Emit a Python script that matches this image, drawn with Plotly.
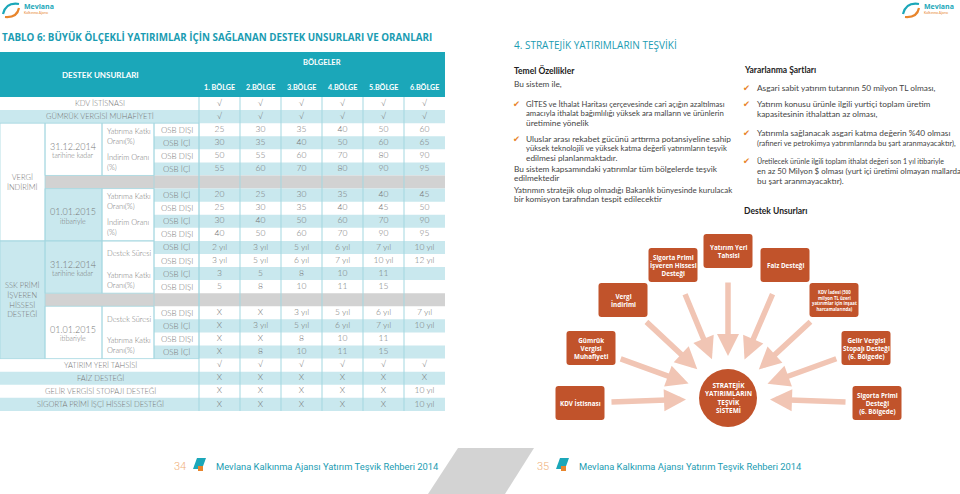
import plotly.graph_objects as go

# ---------------- data ----------------
regions = ["1. BÖLGE", "2.BÖLGE", "3.BÖLGE", "4.BÖLGE", "5.BÖLGE", "6.BÖLGE"]

kdv_istisnasi = ["√", "√", "√", "√", "√", "√"]
gumruk_muafiyeti = ["√", "√", "√", "√", "√", "√"]
vi14_katki_disi = [25, 30, 35, 40, 50, 60]
vi14_katki_ici = [30, 35, 40, 50, 60, 65]
vi14_indirim_disi = [50, 55, 60, 70, 80, 90]
vi14_indirim_ici = [55, 60, 70, 80, 90, 95]
vi15_katki_disi = [20, 25, 30, 35, 40, 45]
vi15_katki_ici = [25, 30, 35, 40, 45, 50]
vi15_indirim_disi = [30, 40, 50, 60, 70, 90]
vi15_indirim_ici = [40, 50, 60, 70, 90, 95]
ssk14_sure_disi = ["2 yıl", "3 yıl", "5 yıl", "6 yıl", "7 yıl", "10 yıl"]
ssk14_sure_ici = ["3 yıl", "5 yıl", "6 yıl", "7 yıl", "10 yıl", "12 yıl"]
ssk14_katki_disi = [3, 5, 8, 10, 11, ""]
ssk14_katki_ici = [5, 8, 10, 11, 15, ""]
ssk15_sure_disi = ["X", "X", "3 yıl", "5 yıl", "6 yıl", "7 yıl"]
ssk15_sure_ici = ["X", "3 yıl", "5 yıl", "6 yıl", "7 yıl", "10 yıl"]
ssk15_katki_disi = ["X", "X", 8, 10, 11, ""]
ssk15_katki_ici = ["X", 8, 10, 11, 15, ""]
yatirim_yeri = ["√", "√", "√", "√", "√", "√"]
faiz_destegi = ["X", "X", "X", "X", "X", "X"]
gelir_stopaji = ["X", "X", "X", "X", "X", "10 yıl"]
sigorta_isci = ["X", "X", "X", "X", "X", "10 yıl"]

full_labels = {0: "KDV İSTİSNASI", 1: "GÜMRÜK VERGİSİ MUHAFİYETİ", 20: "YATIRIM YERİ TAHSİSİ",
               21: "FAİZ DESTEĞİ", 22: "GELİR VERGİSİ STOPAJI DESTEĞİ",
               23: "SİGORTA PRİMİ İŞÇİ HİSSESİ DESTEĞİ"}

table_rows = [kdv_istisnasi, gumruk_muafiyeti,
              vi14_katki_disi, vi14_katki_ici, vi14_indirim_disi, vi14_indirim_ici, None,
              vi15_katki_disi, vi15_katki_ici, vi15_indirim_disi, vi15_indirim_ici,
              ssk14_sure_disi, ssk14_sure_ici, ssk14_katki_disi, ssk14_katki_ici, None,
              ssk15_sure_disi, ssk15_sure_ici, ssk15_katki_disi, ssk15_katki_ici,
              yatirim_yeri, faiz_destegi, gelir_stopaji, sigorta_isci]

groups = [("VERGİ<br>İNDİRİMİ", 2, 10), ("SSK PRİMİ<br>İŞVEREN<br>HİSSESİ<br>DESTEĞİ", 11, 19)]
periods = [("31.12.2014", "tarihine kadar", 2, 5), ("01.01.2015", "itibariyle", 7, 10),
           ("31.12.2014", "tarihine kadar", 11, 14), ("01.01.2015", "itibariyle", 16, 19)]
sub_labels = [("Yatırıma Katkı<br>Oranı(%)", 2), ("İndirim Oranı<br>(%)", 4),
              ("Yatırıma Katkı<br>Oranı(%)", 7), ("İndirim Oranı<br>(%)", 9),
              ("Destek Süresi", 11), ("Yatırıma Katkı<br>Oranı(%)", 13),
              ("Destek Süresi", 16), ("Yatırıma Katkı<br>Oranı(%)", 18)]

diagram_items = ["KDV İstisnası", "Gümrük<br>Vergisi<br>Muhafiyeti", "Vergi<br>İndirimi",
                 "Sigorta Primi<br>İşveren Hissesi<br>Desteği", "Yatırım Yeri<br>Tahsisi",
                 "Faiz Desteği", "KDV İadesi (500<br>milyon TL üzeri<br>yatırımlar için inşaat<br>harcamalarında)",
                 "Gelir Vergisi<br>Stopajı Desteği<br>(6. Bölgede)", "Sigorta Primi<br>Desteği<br>(6. Bölgede)"]
diagram_center = "STRATEJİK<br>YATIRIMLARIN<br>TEŞVİK<br>SİSTEMİ"

temel_lines = [
    ("text", "Bu sistem ile,"),
    ("bullet", "GİTES ve İthalat Haritası çerçevesinde cari açığın azaltılması"),
    ("cont", "amacıyla ithalat bağımlılığı yüksek ara malların ve ürünlerin"),
    ("cont", "üretimine yönelik"),
    ("bullet", "Uluslar arası rekabet gücünü arttırma potansiyeline sahip"),
    ("cont", "yüksek teknolojili ve yüksek katma değerli yatırımların teşvik"),
    ("cont", "edilmesi planlanmaktadır."),
    ("text", "Bu sistem kapsamındaki yatırımlar tüm bölgelerde teşvik"),
    ("text", "edilmektedir"),
    ("text", "Yatırımın stratejik olup olmadığı Bakanlık bünyesinde kurulacak"),
    ("text", "bir komisyon tarafından tespit edilecektir"),
]
temel_y = [84, 104, 113, 123, 139, 148, 158, 169, 178, 190, 199]

sart_lines = [
    ("bullet", "Asgari sabit yatırım tutarının 50 milyon TL olması,"),
    ("bullet", "Yatırım konusu ürünle ilgili yurtiçi toplam üretim"),
    ("cont", "kapasitesinin ithalattan az olması,"),
    ("bullet", "Yatırımla sağlanacak asgari katma değerin %40 olması"),
    ("cont", "(rafineri ve petrokimya yatırımlarında bu şart aranmayacaktır),"),
    ("bullet", "Üretilecek ürünle ilgili toplam ithalat değeri son 1 yıl itibariyle"),
    ("cont", "en az 50 Milyon $ olması (yurt içi üretimi olmayan mallarda"),
    ("cont", "bu şart aranmayacaktır)."),
]
sart_y = [88, 104, 114, 133, 143, 161, 171, 181]

# ---------------- style ----------------
TEAL = "#1ba7b9"
TITLE_TEAL = "#1a9cb2"
LIGHT = "#c9e8ee"
LINE = "#a3d7e0"
GRAY = "#d2d2d2"
TXT = "#767676"
ORANGE = "#c1532b"
SALMON = "#f1c5b4"
CHECK = "#e8852c"
TFONT = "Lato"
BODY = "Lato"
BODY_SIZE = 8.3

X_COL = [0, 45, 102, 154, 199, 240, 281, 322, 363, 404, 445]
Y0, RH = 97, 13.08


def row_y(i):
    return Y0 + RH * (i + 0.5)


def row_top(i):
    return Y0 + RH * i


fig = go.Figure()
shapes = []
ann = []


def rect(x0, y0, x1, y1, fill=None, line=None, lw=0.8):
    shapes.append(dict(type="rect", xref="x", yref="y", x0=x0, y0=y0, x1=x1, y1=y1,
                       fillcolor=fill or "rgba(0,0,0,0)",
                       line=dict(color=line or "rgba(0,0,0,0)", width=lw if line else 0),
                       layer="below"))


def text(x, y, s, size=8, color=TXT, anchor="center", family=TFONT, weight="normal", va="middle"):
    ann.append(dict(x=x, y=y, xref="x", yref="y", text=s, showarrow=False, xanchor=anchor,
                    yanchor=va, align=anchor if anchor != "center" else "center",
                    font=dict(size=size, color=color, family=family, weight=weight)))


def fit_size(s, max_w):
    # rough width of Lato text: ~0.43 em per character
    return min(BODY_SIZE, max_w / (0.43 * len(s)))


# ---------------- left page: table ----------------
text(0, 37, "TABLO 6: BÜYÜK ÖLÇEKLİ YATIRIMLAR İÇİN SAĞLANAN DESTEK UNSURLARI VE ORANLARI",
     size=9.8, color=TITLE_TEAL, anchor="left", weight="bold", family="Open Sans")

rect(0, 52, X_COL[-1], Y0, fill=TEAL)
text(100, 75, "DESTEK UNSURLARI", size=8, color="white", weight="bold")
text(322, 62, "BÖLGELER", size=7.5, color="white", weight="bold")
col_x = [(X_COL[4 + j] + X_COL[5 + j]) / 2 for j in range(6)]
for j, r in enumerate(regions):
    text(col_x[j], 87, r, size=7.2, color="white", weight="bold")

for i, vals in enumerate(table_rows):
    top, bot = row_top(i), row_top(i + 1)
    if vals is None:
        rect(X_COL[1], top, X_COL[-1], bot, fill=GRAY)
        continue
    if i in full_labels:
        if i % 2 == 1:
            rect(0, top, X_COL[-1], bot, fill=LIGHT)
    elif i % 2 == 1:
        rect(X_COL[3], top, X_COL[-1], bot, fill=LIGHT)

# merged cells
rect(0, row_top(11), X_COL[1], row_top(20), fill=LIGHT)
rect(X_COL[1], row_top(7), X_COL[2], row_top(11), fill=LIGHT)
rect(X_COL[1], row_top(11), X_COL[2], row_top(15), fill=LIGHT)
for lab, r0, r1 in groups:
    rect(0, row_top(r0), X_COL[1], row_top(r1 + 1), line=LINE)
    text(22, (row_top(r0) + row_top(r1 + 1)) / 2, lab, size=7.5, weight=300)
for d, sub, r0, r1 in periods:
    rect(X_COL[1], row_top(r0), X_COL[2], row_top(r1 + 1), line=LINE)
    rect(X_COL[2], row_top(r0), X_COL[3], row_top(r1 + 1), line=LINE)
    cy = (row_top(r0) + row_top(r1 + 1)) / 2
    text(73, cy - 3, d, size=9, weight=300)
    text(73, cy + 6, sub, size=7, weight=300)
for lab, r0 in sub_labels:
    cy = row_top(r0 + 1)
    text(105, cy, lab, size=7.5, anchor="left", weight=300)
rect(X_COL[3], row_top(2), X_COL[4], row_top(20), line=LINE)
for i in range(2, 20):
    if table_rows[i] is not None:
        text((X_COL[3] + X_COL[4]) / 2, row_y(i), "OSB DIŞI" if i % 2 == 0 else "OSB İÇİ",
             size=8, weight=300)
for i, lab in full_labels.items():
    text(100, row_y(i), lab, size=7.5, weight=300)
for x in X_COL[4:-1]:
    shapes.append(dict(type="line", xref="x", yref="y", x0=x, x1=x, y0=Y0, y1=row_top(24),
                       line=dict(color=LINE, width=1), layer="below"))

vx, vy, vt = [], [], []
for i, vals in enumerate(table_rows):
    if vals is None:
        continue
    for j, v in enumerate(vals):
        vx.append(col_x[j])
        vy.append(row_y(i))
        vt.append(str(v))
fig.add_trace(go.Scatter(x=vx, y=vy, text=vt, mode="text", hoverinfo="skip",
                         textfont=dict(size=8.5, color=TXT, family=TFONT, weight=300)))


# ---------------- logos / footer ----------------
def logo(x, y):
    shapes.append(dict(type="path", xref="x", yref="y",
                       path=f"M {x+1} {y+13} Q {x+4} {y+1} {x+17} {y+3}",
                       line=dict(color=TEAL, width=2.2)))
    shapes.append(dict(type="path", xref="x", yref="y",
                       path=f"M {x+3} {y+16} Q {x+15} {y+17} {x+17} {y+7}",
                       line=dict(color=CHECK, width=2.2)))
    text(x + 20, y + 5, "Mevlana", size=7, color=TEAL, anchor="left", weight="bold", family="Open Sans")
    text(x + 20, y + 12, "Kalkınma Ajansı", size=3.5, color=CHECK, anchor="left")


logo(2, 1)
logo(902, 1)

shapes.append(dict(type="path", xref="x", yref="y", path="M 458 448 L 534 448 L 505 494 L 428 494 Z",
                   fillcolor="#d3d3d3", line=dict(width=0), layer="below"))


def footer(x, page):
    text(x, 466, page, size=11, color="#f0b07a", anchor="left", family="Roboto", weight=300)
    shapes.append(dict(type="path", xref="x", yref="y",
                       path=f"M {x+25} {y_f-7} L {x+34} {y_f-7} L {x+30} {y_f+4} L {x+21} {y_f+4} Z",
                       fillcolor=TEAL, line=dict(width=0)))
    shapes.append(dict(type="rect", xref="x", yref="y", x0=x + 26, x1=x + 31, y0=y_f + 1, y1=y_f + 6,
                       fillcolor=CHECK, line=dict(width=0)))
    text(x + 42, 466, "Mevlana Kalkınma Ajansı Yatırım Teşvik Rehberi 2014", size=9.4, color=TITLE_TEAL,
         anchor="left", family="Roboto")


y_f = 465
footer(172, "34")
footer(535, "35")

# ---------------- right page ----------------
text(512, 45, "4. STRATEJİK YATIRIMLARIN TEŞVİKİ", size=10, color=TITLE_TEAL, anchor="left", family="Open Sans")
text(512, 70, "Temel Özellikler", size=8.5, color="#222", anchor="left", weight="bold", family=BODY)
for (kind, s), y in zip(temel_lines, temel_y):
    if kind == "bullet":
        text(511, y, "✔", size=8.5, color=CHECK, anchor="left", family="DejaVu Sans")
    x0 = 512 if kind == "text" else 524
    text(x0, y, s, size=fit_size(s, 728 - x0), color="#444", anchor="left", family=BODY)

text(742, 70, "Yararlanma Şartları", size=8.5, color="#222", anchor="left", weight="bold", family=BODY)
for (kind, s), y in zip(sart_lines, sart_y):
    if kind == "bullet":
        text(741, y, "✔", size=8.5, color=CHECK, anchor="left", family="DejaVu Sans")
    text(755, y, s, size=fit_size(s, 957 - 755), color="#444", anchor="left", family=BODY)
text(742, 211, "Destek Unsurları", size=8.5, color="#222", anchor="left", weight="bold", family=BODY)

# ---------------- diagram ----------------
CX, CY, CR = 728, 398, 29
box_centers = [(580, 403), (591, 348), (623, 300), (673, 265), (728, 251),
               (785, 265), (834, 300), (866, 348), (877, 403)]
BW, BH, RAD = 49, 34, 3

for (bx, by), lab in zip(box_centers, diagram_items):
    dx, dy = CX - bx, CY - by
    d = (dx ** 2 + dy ** 2) ** 0.5
    ux, uy = dx / d, dy / d
    ann.append(dict(x=bx + ux * (d - 42), y=by + uy * (d - 42), ax=bx + ux * 30, ay=by + uy * 30,
                    xref="x", yref="y", axref="x", ayref="y", text="", showarrow=True,
                    arrowhead=2, arrowsize=0.8, arrowwidth=5.5, arrowcolor=SALMON))
    x0, x1, y0, y1 = bx - BW / 2, bx + BW / 2, by - BH / 2, by + BH / 2
    p = (f"M {x0+RAD} {y0} L {x1-RAD} {y0} Q {x1} {y0} {x1} {y0+RAD} L {x1} {y1-RAD} "
         f"Q {x1} {y1} {x1-RAD} {y1} L {x0+RAD} {y1} Q {x0} {y1} {x0} {y1-RAD} "
         f"L {x0} {y0+RAD} Q {x0} {y0} {x0+RAD} {y0} Z")
    shapes.append(dict(type="path", xref="x", yref="y", path=p, fillcolor=ORANGE, line=dict(width=0)))
    small = lab.count("<br>") >= 3
    text(bx, by, lab, size=4.3 if small else 6.3, color="white", weight="bold", family="Open Sans")

shapes.append(dict(type="circle", xref="x", yref="y", x0=CX - CR, x1=CX + CR, y0=CY - CR, y1=CY + CR,
                   fillcolor=ORANGE, line=dict(width=0)))
text(CX, CY, diagram_center, size=6.5, color="white", weight="bold", family="Open Sans")

fig.update_layout(
    width=960, height=494, margin=dict(l=0, r=0, t=0, b=0),
    paper_bgcolor="white", plot_bgcolor="white", showlegend=False,
    xaxis=dict(range=[0, 960], visible=False, fixedrange=True),
    yaxis=dict(range=[494, 0], visible=False, fixedrange=True),
    shapes=shapes, annotations=ann,
)
fig.write_html("out.html", config={"displayModeBar": False},
               post_script="document.body.style.margin='0';")
